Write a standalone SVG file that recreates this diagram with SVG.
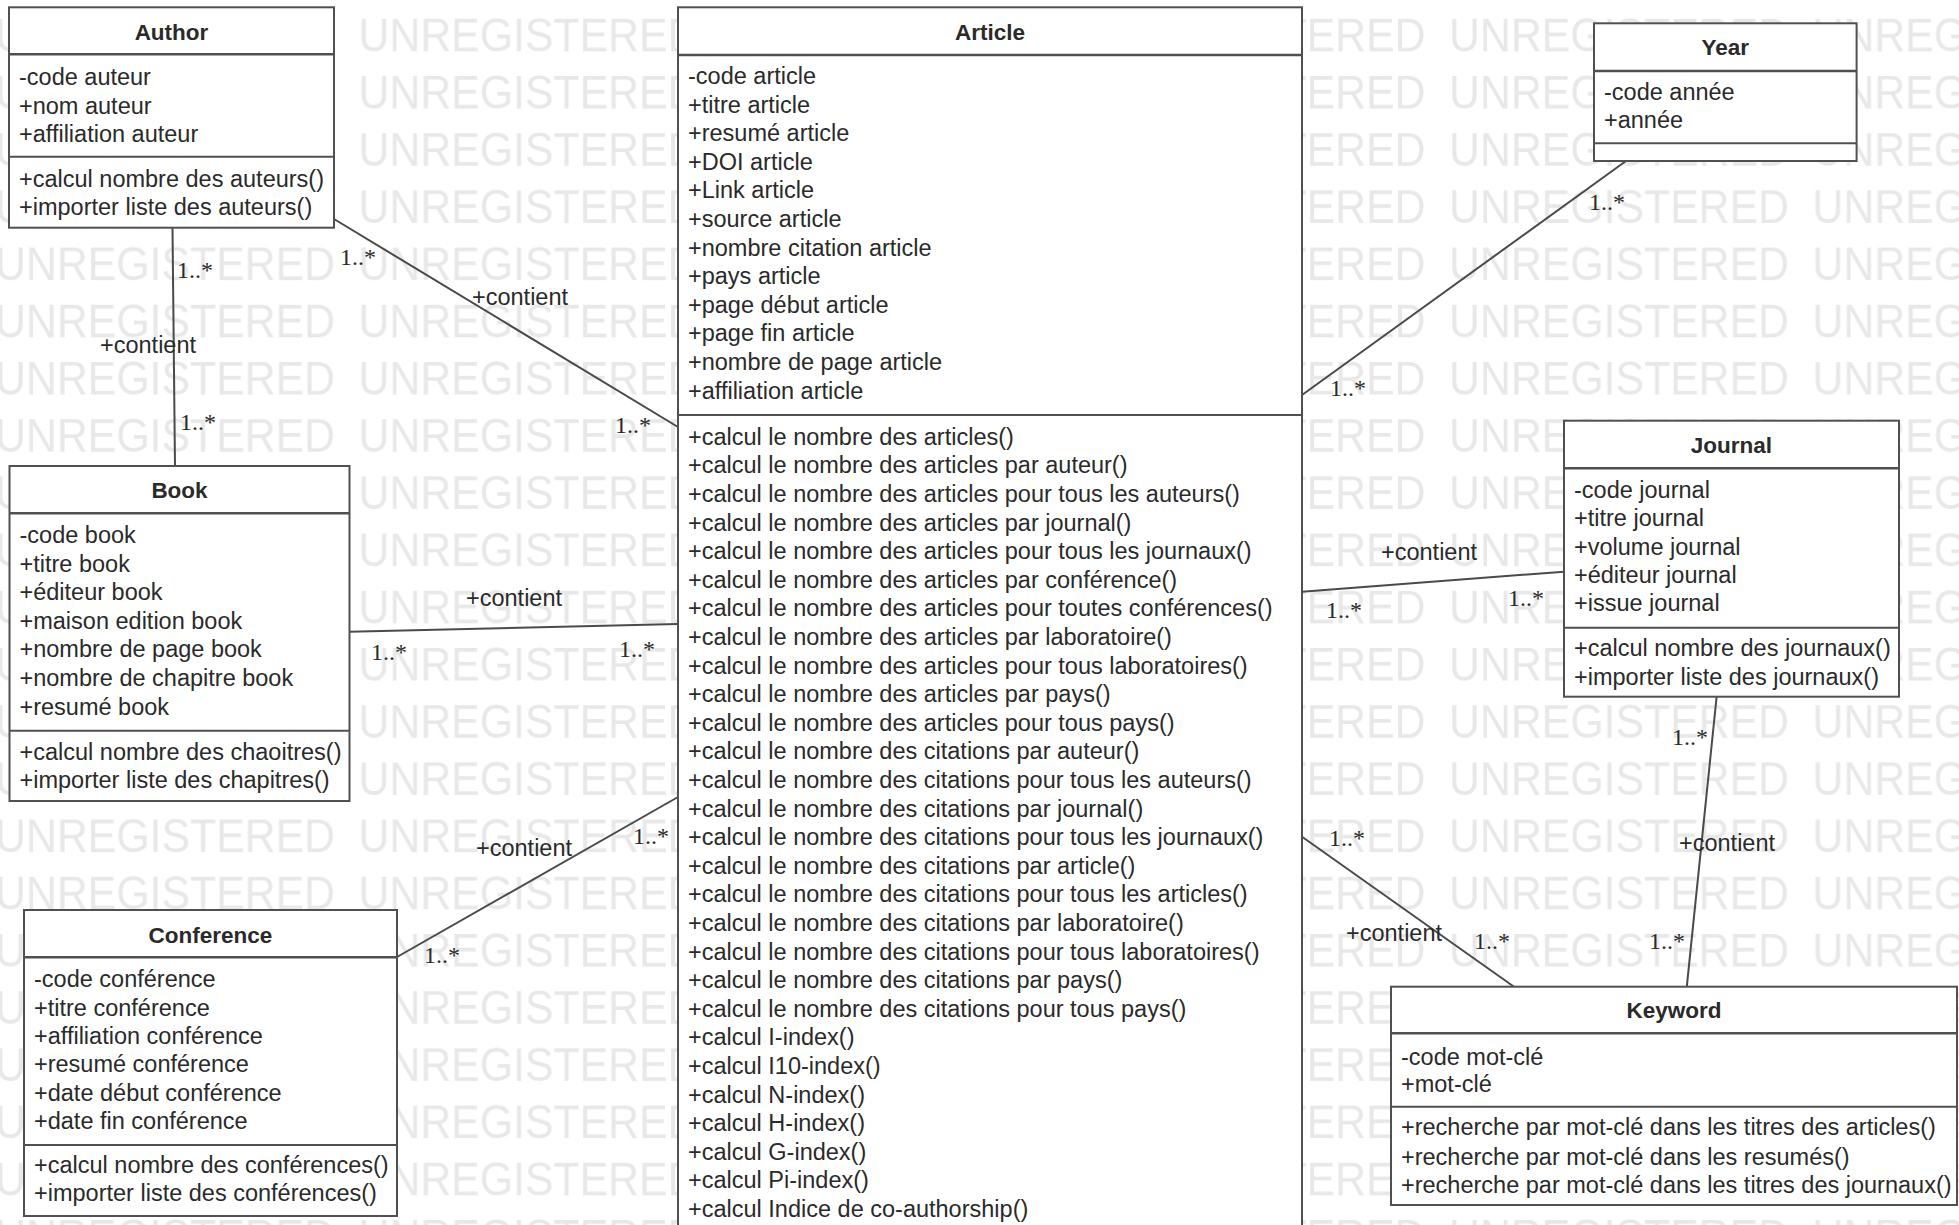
<svg xmlns="http://www.w3.org/2000/svg" width="1959" height="1225" viewBox="0 0 1959 1225">
<style>
.box{fill:#fff;stroke:#505050;stroke-width:2}
.sep{stroke:#505050;stroke-width:2.5}
.sep2{stroke:#505050;stroke-width:2}
.title{font-family:"Liberation Sans",Arial,sans-serif;font-size:22.5px;font-weight:bold;fill:#2a2a2a;text-anchor:middle}
.t{font-family:"Liberation Sans",Arial,sans-serif;font-size:23.5px;fill:#2a2a2a}
.edge{stroke:#4a4a4a;stroke-width:2;fill:none}
.lbl{font-family:"Liberation Sans",Arial,sans-serif;font-size:23.5px;fill:#2a2a2a}
.m{font-family:"Liberation Serif","Times New Roman",serif;font-size:24px;fill:#2a2a2a}
.wm{font-family:"Liberation Sans",Arial,sans-serif;font-size:48px;fill:#e8e8e8}
</style>
<defs>
<pattern id="wmp" patternUnits="userSpaceOnUse" x="-5" y="5" width="363.5" height="57.2">
<text class="wm" x="0" y="46" textLength="340" lengthAdjust="spacingAndGlyphs">UNREGISTERED</text>
</pattern>
</defs>
<rect x="0" y="0" width="1959" height="1225" fill="#fff"/>
<rect x="0" y="0" width="1959" height="1225" fill="url(#wmp)"/>

<g id="connectors">
<line class="edge" x1="172.5" y1="228" x2="175" y2="466"/>
<line class="edge" x1="334" y1="219" x2="678" y2="427"/>
<line class="edge" x1="349.5" y1="631.7" x2="678" y2="624"/>
<line class="edge" x1="397" y1="957" x2="678" y2="797"/>
<line class="edge" x1="1626" y1="161" x2="1302" y2="395"/>
<line class="edge" x1="1302" y1="591.7" x2="1564" y2="571.7"/>
<line class="edge" x1="1716.6" y1="697" x2="1686.8" y2="986.7"/>
<line class="edge" x1="1302" y1="836.7" x2="1514" y2="986.7"/>
<text class="m" x="177" y="278">1..*</text>
<text class="m" x="180" y="430">1..*</text>
<text class="lbl" x="100" y="353">+contient</text>
<text class="m" x="340" y="265">1..*</text>
<text class="m" x="615" y="433">1..*</text>
<text class="lbl" x="472" y="305">+contient</text>
<text class="m" x="371" y="660">1..*</text>
<text class="m" x="619" y="657">1..*</text>
<text class="lbl" x="466" y="606">+contient</text>
<text class="m" x="633" y="844">1..*</text>
<text class="m" x="424" y="963">1..*</text>
<text class="lbl" x="476" y="856">+contient</text>
<text class="m" x="1589" y="210">1..*</text>
<text class="m" x="1330" y="396">1..*</text>
<text class="m" x="1326" y="618">1..*</text>
<text class="m" x="1508" y="606">1..*</text>
<text class="lbl" x="1381" y="560">+contient</text>
<text class="m" x="1672" y="745">1..*</text>
<text class="m" x="1649" y="949">1..*</text>
<text class="lbl" x="1679" y="851">+contient</text>
<text class="m" x="1329" y="846">1..*</text>
<text class="m" x="1474" y="949">1..*</text>
<text class="lbl" x="1346" y="941">+contient</text>
</g>

<g id="author">
<rect class="box" x="9" y="7.3" width="325" height="220.4"/>
<line class="sep" x1="9" y1="54.3" x2="334" y2="54.3"/>
<line class="sep2" x1="9" y1="156.7" x2="334" y2="156.7"/>
<text class="title" x="171.5" y="40.3">Author</text>
<text class="t"><tspan x="19" y="85">-code auteur</tspan><tspan x="19" y="113.5">+nom auteur</tspan><tspan x="19" y="142">+affiliation auteur</tspan></text>
<text class="t"><tspan x="19" y="187">+calcul nombre des auteurs()</tspan><tspan x="19" y="215">+importer liste des auteurs()</tspan></text>
</g>

<g id="book">
<rect class="box" x="9.5" y="466" width="340" height="335"/>
<line class="sep" x1="9.5" y1="513.3" x2="349.5" y2="513.3"/>
<line class="sep2" x1="9.5" y1="730.7" x2="349.5" y2="730.7"/>
<text class="title" x="179.5" y="498">Book</text>
<text class="t"><tspan x="19.5" y="543">-code book</tspan><tspan x="19.5" y="571.6">+titre book</tspan><tspan x="19.5" y="600.2">+éditeur book</tspan><tspan x="19.5" y="628.8">+maison edition book</tspan><tspan x="19.5" y="657.4">+nombre de page book</tspan><tspan x="19.5" y="686">+nombre de chapitre book</tspan><tspan x="19.5" y="714.6">+resumé book</tspan></text>
<text class="t"><tspan x="19.5" y="759.7">+calcul nombre des chaoitres()</tspan><tspan x="19.5" y="788">+importer liste des chapitres()</tspan></text>
</g>

<g id="conference">
<rect class="box" x="24" y="910" width="373" height="306"/>
<line class="sep" x1="24" y1="957.3" x2="397" y2="957.3"/>
<line class="sep2" x1="24" y1="1145" x2="397" y2="1145"/>
<text class="title" x="210.5" y="943">Conference</text>
<text class="t"><tspan x="34" y="987.3">-code conférence</tspan><tspan x="34" y="1015.6">+titre conférence</tspan><tspan x="34" y="1043.9">+affiliation conférence</tspan><tspan x="34" y="1072.2">+resumé conférence</tspan><tspan x="34" y="1100.5">+date début conférence</tspan><tspan x="34" y="1128.8">+date fin conférence</tspan></text>
<text class="t"><tspan x="34" y="1173">+calcul nombre des conférences()</tspan><tspan x="34" y="1201.3">+importer liste des conférences()</tspan></text>
</g>

<g id="article">
<rect class="box" x="678" y="7.3" width="624" height="1240"/>
<line class="sep" x1="678" y1="55" x2="1302" y2="55"/>
<line class="sep2" x1="678" y1="415" x2="1302" y2="415"/>
<text class="title" x="990" y="40.3">Article</text>
<text class="t"><tspan x="688" y="84">-code article</tspan><tspan x="688" y="112.6">+titre article</tspan><tspan x="688" y="141.2">+resumé article</tspan><tspan x="688" y="169.8">+DOI article</tspan><tspan x="688" y="198.4">+Link article</tspan><tspan x="688" y="227">+source article</tspan><tspan x="688" y="255.6">+nombre citation article</tspan><tspan x="688" y="284.2">+pays article</tspan><tspan x="688" y="312.8">+page début article</tspan><tspan x="688" y="341.4">+page fin article</tspan><tspan x="688" y="370">+nombre de page article</tspan><tspan x="688" y="398.6">+affiliation article</tspan></text>
<text class="t"><tspan x="688" y="444.7">+calcul le nombre des articles()</tspan><tspan x="688" y="473.3">+calcul le nombre des articles par auteur()</tspan><tspan x="688" y="501.9">+calcul le nombre des articles pour tous les auteurs()</tspan><tspan x="688" y="530.5">+calcul le nombre des articles par journal()</tspan><tspan x="688" y="559.1">+calcul le nombre des articles pour tous les journaux()</tspan><tspan x="688" y="587.7">+calcul le nombre des articles par conférence()</tspan><tspan x="688" y="616.3">+calcul le nombre des articles pour toutes conférences()</tspan><tspan x="688" y="644.9">+calcul le nombre des articles par laboratoire()</tspan><tspan x="688" y="673.5">+calcul le nombre des articles pour tous laboratoires()</tspan><tspan x="688" y="702.1">+calcul le nombre des articles par pays()</tspan><tspan x="688" y="730.7">+calcul le nombre des articles pour tous pays()</tspan><tspan x="688" y="759.3">+calcul le nombre des citations par auteur()</tspan><tspan x="688" y="787.9">+calcul le nombre des citations pour tous les auteurs()</tspan><tspan x="688" y="816.5">+calcul le nombre des citations par journal()</tspan><tspan x="688" y="845.1">+calcul le nombre des citations pour tous les journaux()</tspan><tspan x="688" y="873.7">+calcul le nombre des citations par article()</tspan><tspan x="688" y="902.3">+calcul le nombre des citations pour tous les articles()</tspan><tspan x="688" y="930.9">+calcul le nombre des citations par laboratoire()</tspan><tspan x="688" y="959.5">+calcul le nombre des citations pour tous laboratoires()</tspan><tspan x="688" y="988.1">+calcul le nombre des citations par pays()</tspan><tspan x="688" y="1016.7">+calcul le nombre des citations pour tous pays()</tspan><tspan x="688" y="1045.3">+calcul I-index()</tspan><tspan x="688" y="1073.9">+calcul I10-index()</tspan><tspan x="688" y="1102.5">+calcul N-index()</tspan><tspan x="688" y="1131.1">+calcul H-index()</tspan><tspan x="688" y="1159.7">+calcul G-index()</tspan><tspan x="688" y="1188.3">+calcul Pi-index()</tspan><tspan x="688" y="1216.9">+calcul Indice de co-authorship()</tspan></text>
</g>

<g id="year">
<rect class="box" x="1594" y="23.3" width="262.6" height="137.7"/>
<line class="sep" x1="1594" y1="71" x2="1856.6" y2="71"/>
<line class="sep2" x1="1594" y1="143.3" x2="1856.6" y2="143.3"/>
<text class="title" x="1725.3" y="54.7">Year</text>
<text class="t"><tspan x="1604" y="99.7">-code année</tspan><tspan x="1604" y="128">+année</tspan></text>
</g>

<g id="journal">
<rect class="box" x="1564" y="420.7" width="335" height="276"/>
<line class="sep" x1="1564" y1="468.3" x2="1899" y2="468.3"/>
<line class="sep2" x1="1564" y1="627.7" x2="1899" y2="627.7"/>
<text class="title" x="1731.5" y="453">Journal</text>
<text class="t"><tspan x="1574" y="498">-code journal</tspan><tspan x="1574" y="526.3">+titre journal</tspan><tspan x="1574" y="554.6">+volume journal</tspan><tspan x="1574" y="582.9">+éditeur journal</tspan><tspan x="1574" y="611.2">+issue journal</tspan></text>
<text class="t"><tspan x="1574" y="656.3">+calcul nombre des journaux()</tspan><tspan x="1574" y="684.7">+importer liste des journaux()</tspan></text>
</g>

<g id="keyword">
<rect class="box" x="1391" y="986.7" width="566" height="218.3"/>
<line class="sep" x1="1391" y1="1033.3" x2="1957" y2="1033.3"/>
<line class="sep2" x1="1391" y1="1106.7" x2="1957" y2="1106.7"/>
<text class="title" x="1674" y="1018">Keyword</text>
<text class="t"><tspan x="1401" y="1064.7">-code mot-clé</tspan><tspan x="1401" y="1092">+mot-clé</tspan></text>
<text class="t"><tspan x="1401" y="1135">+recherche par mot-clé dans les titres des articles()</tspan><tspan x="1401" y="1164.7">+recherche par mot-clé dans les resumés()</tspan><tspan x="1401" y="1193">+recherche par mot-clé dans les titres des journaux()</tspan></text>
</g>
</svg>
